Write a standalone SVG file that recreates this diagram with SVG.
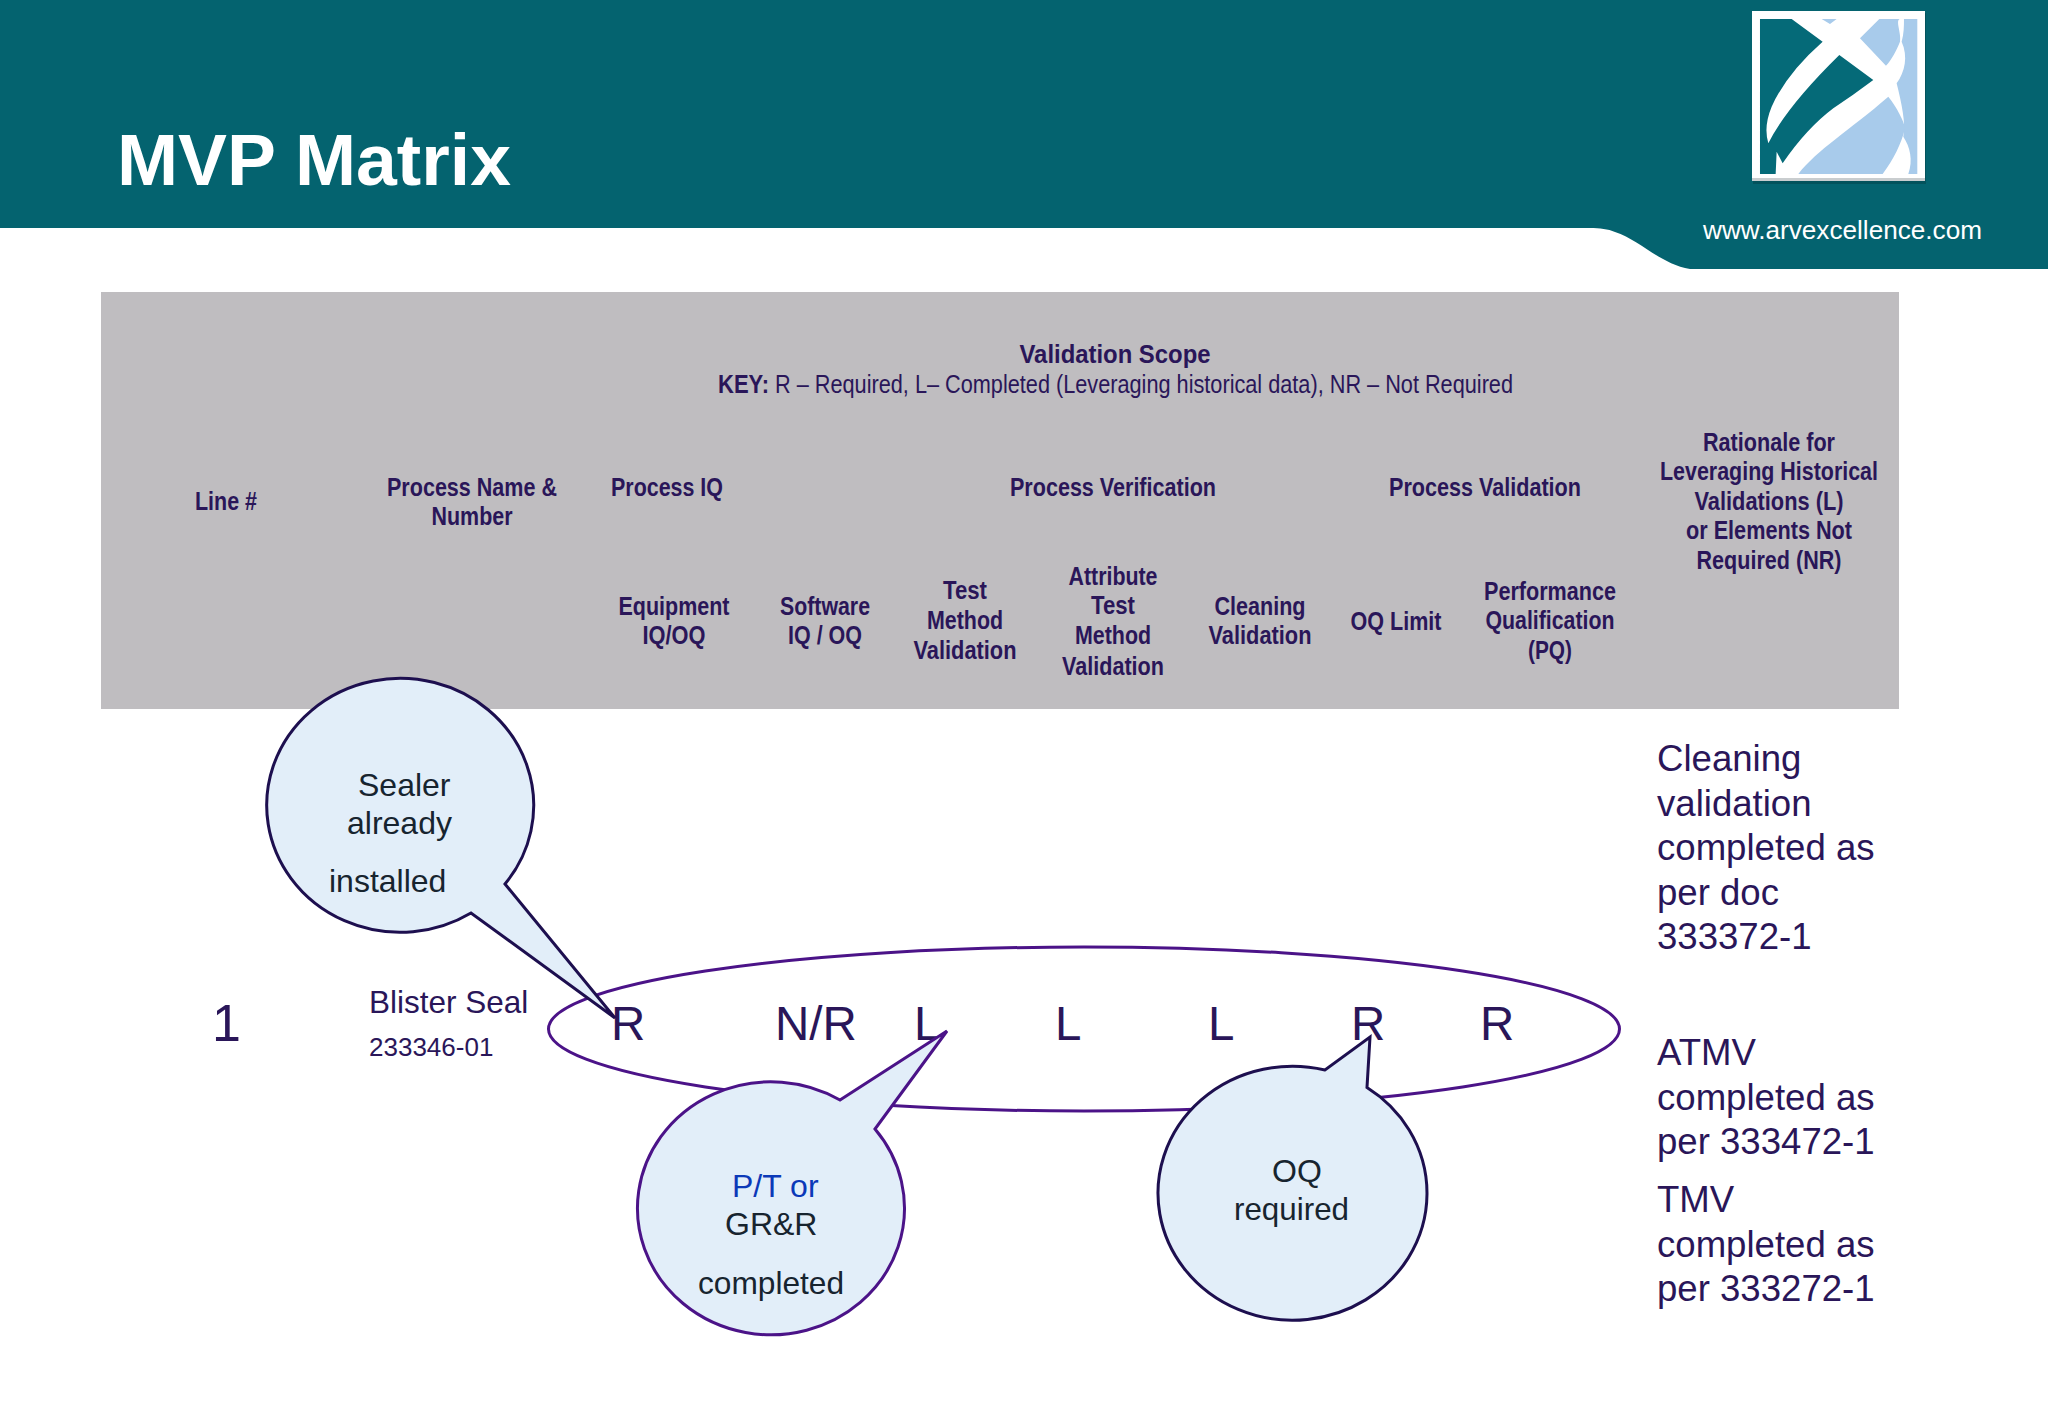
<svg xmlns="http://www.w3.org/2000/svg" width="2048" height="1418" viewBox="0 0 2048 1418">
<style>
text{font-family:"Liberation Sans",Arial,sans-serif}
.h{font-size:25px;font-weight:bold;fill:#2a1659;text-anchor:middle}
.n{font-size:25px;fill:#2a1659}
.v{font-size:47.500px;fill:#2a1659}
.r{font-size:36.600px;fill:#2a1659}
.c{font-size:32px;fill:#17242f}
.call{fill:#e2eef9;stroke-width:3}
.teal{fill:#056a78}
.blue{fill:#a8cbeb}
</style>
<rect width="2048" height="1418" fill="#fff"/>
<g id="header">
<path d="M0 0H2048V269H1690C1660 264 1640 240 1615 232C1608 229 1600 228 1590 228H0Z" fill="#04636f"/>
<text x="117" y="185" font-size="73" font-weight="bold" fill="#fff" textLength="394" lengthAdjust="spacingAndGlyphs">MVP Matrix</text>
<text x="1703" y="239" font-size="26" fill="#fff" textLength="279" lengthAdjust="spacingAndGlyphs">www.arvexcellence.com</text>
</g>
<g id="logo">
<rect x="1753" y="13" width="173" height="171" fill="#03525c"/>
<rect x="1752" y="11" width="173" height="170" fill="#fff"/>
<rect x="1752" y="178" width="173" height="3" fill="#c9cdcf"/>
<g transform="translate(1600 0) scale(.3333)">
<path class="teal" d="M480 57H575L668 125Q560 220 515 320Q490 380 505 430Q560 320 718 165L820 240Q760 285 700 325Q620 385 548 490L530 455L527 522H480Z"/>
<path class="blue" d="M665 57H710L690 72Z"/>
<path class="blue" d="M780 115L838 57H900C885 60 905 100 900 125C890 150 875 180 858 197Z"/>
<path class="blue" d="M912 57H952V522H925C940 480 930 440 910 410C918 370 905 310 890 250C915 215 925 170 905 125C912 100 912 80 912 57Z"/>
<path class="blue" d="M865 290C890 320 915 370 915 385C905 430 880 480 848 522H595C650 450 750 390 865 290Z"/>
</g>
</g>
<g id="table-header">
<rect x="101" y="292" width="1798" height="417" fill="#bfbdc0"/>
<text class="h" x="1115" y="363" textLength="191" lengthAdjust="spacingAndGlyphs">Validation Scope</text>
<text class="n" y="393"><tspan x="718" font-weight="bold" textLength="51" lengthAdjust="spacingAndGlyphs">KEY:</tspan><tspan x="775" textLength="738" lengthAdjust="spacingAndGlyphs">R – Required, L– Completed (Leveraging historical data), NR – Not Required</tspan></text>
<text class="h" x="226" y="510" textLength="62" lengthAdjust="spacingAndGlyphs">Line #</text>
<text class="h" x="472" y="496" textLength="170" lengthAdjust="spacingAndGlyphs">Process Name &amp;</text>
<text class="h" x="472" y="525" textLength="81" lengthAdjust="spacingAndGlyphs">Number</text>
<text class="h" x="667" y="496" textLength="112" lengthAdjust="spacingAndGlyphs">Process IQ</text>
<text class="h" x="1113" y="496" textLength="206" lengthAdjust="spacingAndGlyphs">Process Verification</text>
<text class="h" x="1485" y="496" textLength="192" lengthAdjust="spacingAndGlyphs">Process Validation</text>
<text class="h" x="1769" y="451" textLength="132" lengthAdjust="spacingAndGlyphs">Rationale for</text>
<text class="h" x="1769" y="480" textLength="218" lengthAdjust="spacingAndGlyphs">Leveraging Historical</text>
<text class="h" x="1769" y="510" textLength="149" lengthAdjust="spacingAndGlyphs">Validations (L)</text>
<text class="h" x="1769" y="539" textLength="166" lengthAdjust="spacingAndGlyphs">or Elements Not</text>
<text class="h" x="1769" y="569" textLength="145" lengthAdjust="spacingAndGlyphs">Required (NR)</text>
<text class="h" x="674" y="615" textLength="111" lengthAdjust="spacingAndGlyphs">Equipment</text>
<text class="h" x="674" y="644" textLength="63" lengthAdjust="spacingAndGlyphs">IQ/OQ</text>
<text class="h" x="825" y="615" textLength="90" lengthAdjust="spacingAndGlyphs">Software</text>
<text class="h" x="825" y="644" textLength="74" lengthAdjust="spacingAndGlyphs">IQ / OQ</text>
<text class="h" x="965" y="599" textLength="44" lengthAdjust="spacingAndGlyphs">Test</text>
<text class="h" x="965" y="629" textLength="76" lengthAdjust="spacingAndGlyphs">Method</text>
<text class="h" x="965" y="659" textLength="103" lengthAdjust="spacingAndGlyphs">Validation</text>
<text class="h" x="1113" y="585" textLength="89" lengthAdjust="spacingAndGlyphs">Attribute</text>
<text class="h" x="1113" y="614" textLength="44" lengthAdjust="spacingAndGlyphs">Test</text>
<text class="h" x="1113" y="644" textLength="76" lengthAdjust="spacingAndGlyphs">Method</text>
<text class="h" x="1113" y="675" textLength="102" lengthAdjust="spacingAndGlyphs">Validation</text>
<text class="h" x="1260" y="615" textLength="91" lengthAdjust="spacingAndGlyphs">Cleaning</text>
<text class="h" x="1260" y="644" textLength="103" lengthAdjust="spacingAndGlyphs">Validation</text>
<text class="h" x="1396" y="630" textLength="91" lengthAdjust="spacingAndGlyphs">OQ Limit</text>
<text class="h" x="1550" y="600" textLength="132" lengthAdjust="spacingAndGlyphs">Performance</text>
<text class="h" x="1550" y="629" textLength="129" lengthAdjust="spacingAndGlyphs">Qualification</text>
<text class="h" x="1550" y="659" textLength="44" lengthAdjust="spacingAndGlyphs">(PQ)</text>
</g>
<g id="row-1">
<text x="212" y="1041" font-size="52" fill="#2a1659">1</text>
<text x="369" y="1013" font-size="31.500" fill="#2a1659">Blister Seal</text>
<text x="369" y="1056" font-size="26" fill="#2a1659">233346-01</text>
<text class="v" x="611" y="1040">R</text>
<text class="v" x="775" y="1040">N/R</text>
<text class="v" x="914" y="1040">L</text>
<text class="v" x="1055" y="1040">L</text>
<text class="v" x="1208" y="1040">L</text>
<text class="v" x="1351" y="1040">R</text>
<text class="v" x="1480" y="1040">R</text>
</g>
<g id="highlight-ellipse"><ellipse cx="1084" cy="1029" rx="535.500" ry="82" fill="none" stroke="#4b1388" stroke-width="3"/></g>
<g id="rationale">
<text class="r" x="1657" y="771">Cleaning</text>
<text class="r" x="1657" y="816">validation</text>
<text class="r" x="1657" y="860">completed as</text>
<text class="r" x="1657" y="905">per doc</text>
<text class="r" x="1657" y="949">333372-1</text>
<text class="r" x="1657" y="1065">ATMV</text>
<text class="r" x="1657" y="1110">completed as</text>
<text class="r" x="1657" y="1154">per 333472-1</text>
<text class="r" x="1657" y="1212">TMV</text>
<text class="r" x="1657" y="1257">completed as</text>
<text class="r" x="1657" y="1301">per 333272-1</text>
</g>
<g id="callout-sealer">
<path class="call" stroke="#1d0f4f" d="M471 913A133.500 127 0 1 1 505 884L615 1018Z"/>
<text class="c" x="358" y="796">Sealer</text>
<text class="c" x="347" y="834">already</text>
<text class="c" x="329" y="892">installed</text>
</g>
<g id="callout-ptgrr">
<path class="call" stroke="#4b1388" d="M840 1100A133.500 126.500 0 1 0 875 1129L947 1031Z"/>
<text class="c" x="732" y="1197" style="fill:#0b39b8">P/T or</text>
<text class="c" x="725" y="1235">GR&amp;R</text>
<text class="c" x="698" y="1294" textLength="146" lengthAdjust="spacingAndGlyphs">completed</text>
</g>
<g id="callout-oq">
<path class="call" stroke="#1d0f4f" d="M1325 1070A134.500 127 0 1 0 1367 1087.500L1370 1037Z"/>
<text class="c" x="1272" y="1182">OQ</text>
<text class="c" x="1234" y="1220" textLength="115" lengthAdjust="spacingAndGlyphs">required</text>
</g>
</svg>
